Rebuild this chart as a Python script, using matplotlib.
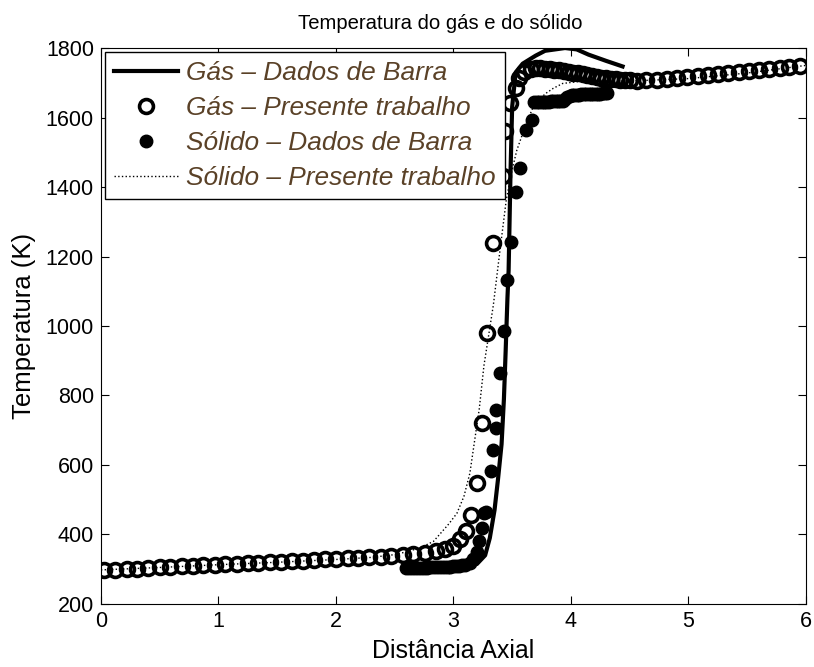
import numpy as np
import matplotlib
matplotlib.use('Agg')
import matplotlib.pyplot as plt

plt.rcParams['font.family'] = ['Liberation Sans', 'DejaVu Sans']

# Gás - Dados de Barra (linha contínua)
x_gas_barra = [2.60, 2.90, 3.10, 3.20, 3.27, 3.31, 3.35, 3.38, 3.41, 3.43, 3.445,
               3.46, 3.47, 3.486, 3.50, 3.53, 3.59, 3.70, 3.78, 3.95, 4.05, 4.15,
               4.30, 4.44]
T_gas_barra = [300, 302, 306, 315, 340, 390, 470, 560, 660, 790, 930,
               1080, 1160, 1440, 1630, 1730, 1755, 1778, 1792, 1800, 1796, 1781,
               1763, 1747]

# Gás - Presente trabalho (círculos abertos)
x_gas_pt = [0.03, 0.12, 0.22, 0.31, 0.40, 0.50, 0.59, 0.69, 0.78, 0.87, 0.97,
            1.06, 1.16, 1.25, 1.34, 1.44, 1.53, 1.63, 1.72, 1.81, 1.91, 2.00,
            2.10, 2.19, 2.28, 2.38, 2.47, 2.57, 2.66, 2.76, 2.85, 2.93, 3.00,
            3.06, 3.11, 3.15, 3.20, 3.245, 3.285, 3.34, 3.42, 3.44, 3.485,
            3.53, 3.557, 3.60, 3.657, 3.70, 3.74, 3.78, 3.82, 3.86, 3.90, 3.94,
            3.98, 4.02, 4.06, 4.10, 4.14, 4.18, 4.22, 4.26, 4.30, 4.34, 4.38,
            4.42, 4.46, 4.50, 4.56, 4.64, 4.73, 4.82, 4.90, 4.99, 5.08, 5.17,
            5.25, 5.34, 5.43, 5.52, 5.60, 5.69, 5.78, 5.86, 5.95]
T_gas_pt = [298, 299, 301, 302, 304, 305, 307, 308, 310, 311, 313,
            314, 316, 317, 319, 320, 322, 323, 325, 326, 328, 329,
            331, 332, 334, 336, 338, 340, 343, 347, 352, 358, 368,
            387, 411, 455, 547, 720, 980, 1240, 1432, 1562, 1643,
            1686, 1715, 1730, 1740, 1742, 1742, 1741, 1740, 1738, 1736, 1734,
            1732, 1729, 1727, 1724, 1722, 1719, 1717, 1715, 1713, 1711, 1710,
            1709, 1708, 1707, 1706, 1707, 1709, 1711, 1714, 1716, 1719, 1722,
            1725, 1728, 1731, 1734, 1737, 1740, 1743, 1746, 1749]

# Sólido - Dados de Barra (pontos cheios)
x_sol_barra = [2.60, 2.625, 2.65, 2.675, 2.70, 2.725, 2.75, 2.775, 2.80, 2.825,
               2.85, 2.875, 2.90, 2.925, 2.95, 2.975, 3.00, 3.025, 3.05, 3.075,
               3.10, 3.14, 3.17, 3.20, 3.22, 3.24, 3.26, 3.28, 3.32, 3.336,
               3.36, 3.364, 3.393, 3.43, 3.458, 3.494, 3.53, 3.57, 3.614, 3.67,
               3.69, 3.71, 3.73, 3.75, 3.77, 3.79, 3.81, 3.83, 3.85, 3.87,
               3.89, 3.91, 3.93, 3.95, 3.97, 3.99, 4.01, 4.03, 4.05, 4.07,
               4.09, 4.11, 4.13, 4.15, 4.17, 4.19, 4.21, 4.23, 4.25, 4.27,
               4.29, 4.31]
T_sol_barra = [303, 303, 303, 303, 304, 304, 304, 304, 305, 305,
               305, 305, 306, 306, 307, 307, 308, 309, 310, 311,
               313, 318, 330, 350, 380, 420, 462, 466, 582, 643,
               705, 758, 865, 985, 1133, 1242, 1386, 1454, 1564, 1593,
               1645, 1645, 1645, 1646, 1646, 1646, 1646, 1647, 1647, 1647,
               1647, 1648, 1648, 1652, 1658, 1662, 1664, 1665, 1666, 1666,
               1667, 1667, 1667, 1668, 1668, 1668, 1669, 1669, 1669, 1670,
               1670, 1670]

# Sólido - Presente trabalho (linha pontilhada)
x_sol_pt = [0.0, 0.5, 1.0, 1.5, 2.0, 2.3, 2.5, 2.60, 2.72, 2.83, 2.89, 2.96,
            3.03, 3.09, 3.14, 3.22, 3.26, 3.34, 3.39, 3.45, 3.50, 3.54, 3.62,
            3.68, 3.78, 3.85, 3.93, 4.10, 4.30, 4.50, 5.00, 5.50, 6.00]
T_sol_pt = [298, 305, 313, 320, 328, 334, 342, 350, 362, 380, 403, 430,
            461, 510, 576, 761, 886, 1060, 1200, 1363, 1450, 1506, 1583,
            1631, 1668, 1684, 1698, 1705, 1705, 1705, 1712, 1728, 1750]

fig = plt.figure(figsize=(8.14, 6.67), dpi=100)
ax = fig.add_axes([0.124, 0.0945, 0.866, 0.8335])

ax.plot(x_gas_barra, T_gas_barra, '-', color='k', lw=3, label='Gás – Dados de Barra')
ax.plot(x_gas_pt, T_gas_pt, 'o', mfc='none', mec='k', ms=10, mew=2.6,
        label='Gás – Presente trabalho')
ax.plot(x_sol_barra, T_sol_barra, 'o', color='k', ms=9, label='Sólido – Dados de Barra')
ax.plot(x_sol_pt, T_sol_pt, ':', color='k', lw=1, label='Sólido – Presente trabalho')

ax.set_xlim(0, 6)
ax.set_ylim(200, 1800)
ax.set_xticks(range(0, 7))
ax.set_yticks(range(200, 1801, 200))
ax.tick_params(direction='in', top=True, right=True, length=6, labelsize=15.5, pad=5)
ax.set_xlabel('Distância Axial', fontsize=18, labelpad=5)
ax.set_ylabel('Temperatura (K)', fontsize=18.5, labelpad=7)
ax.set_title('Temperatura do gás e do sólido', fontsize=14.6, pad=14, x=0.482)

leg = ax.legend(loc='upper left', handlelength=2.45, handletextpad=0.3,
                borderaxespad=0.15, borderpad=0.35, labelspacing=0.42,
                fancybox=False, edgecolor='k', framealpha=1,
                prop={'style': 'italic', 'size': 18.9})
leg.get_frame().set_linewidth(1.0)
for t in leg.get_texts():
    t.set_color('#5a4127')

fig.savefig('out.png', dpi=100)
